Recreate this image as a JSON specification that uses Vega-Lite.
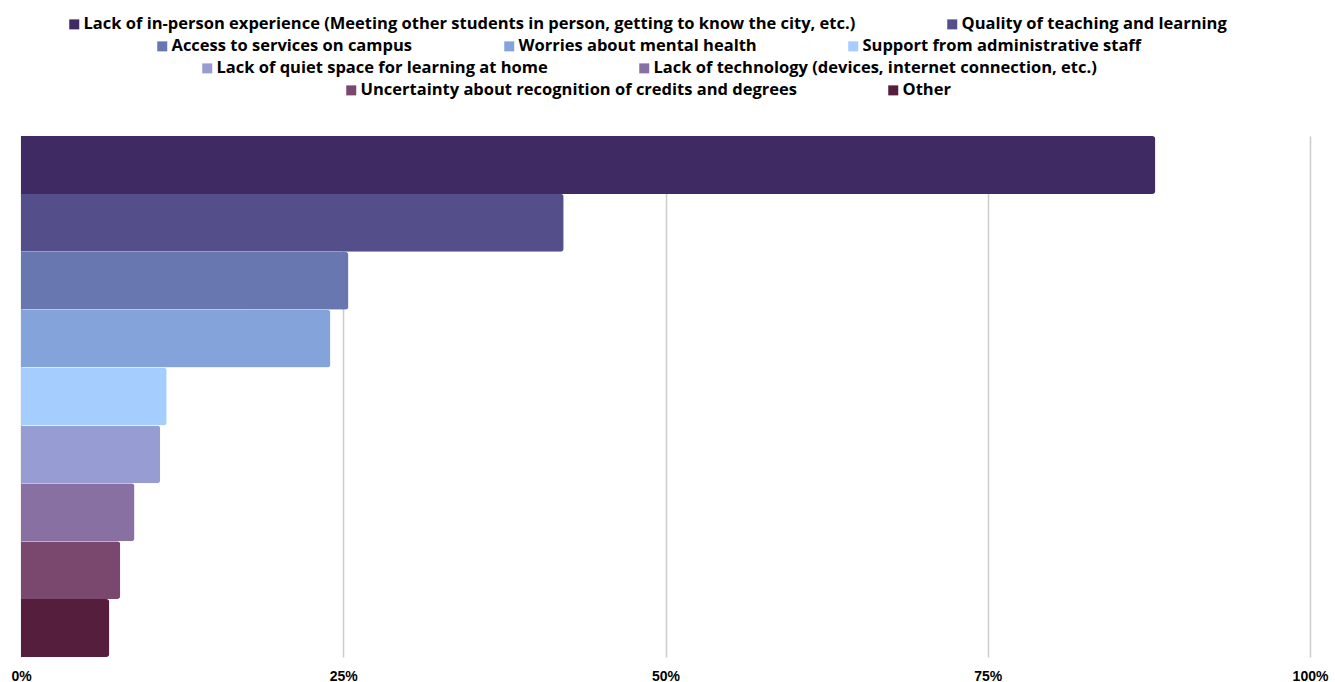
{
  "$schema": "https://vega.github.io/schema/vega-lite/v6.json",
  "autosize": {"type": "none"},
  "width": 1289,
  "height": 521,
  "padding": {"left": 21, "top": 136, "right": 25, "bottom": 25},
  "background": "white",
  "config": {"view": {"stroke": null}},
  "data": {"values": [
    {"category": "Lack of in-person experience (Meeting other students in person, getting to know the city, etc.)", "value": 0.88, "row": 1},
    {"category": "Quality of teaching and learning", "value": 0.421, "row": 1},
    {"category": "Access to services on campus", "value": 0.254, "row": 2},
    {"category": "Worries about mental health", "value": 0.240, "row": 2},
    {"category": "Support from administrative staff", "value": 0.113, "row": 2},
    {"category": "Lack of quiet space for learning at home", "value": 0.108, "row": 3},
    {"category": "Lack of technology (devices, internet connection, etc.)", "value": 0.088, "row": 3},
    {"category": "Uncertainty about recognition of credits and degrees", "value": 0.077, "row": 4},
    {"category": "Other", "value": 0.0685, "row": 4}
  ]},
  "encoding": {
    "y": {"field": "category", "type": "nominal", "axis": null,
      "scale": {"paddingInner": 0, "paddingOuter": 0, "domain": [
        "Lack of in-person experience (Meeting other students in person, getting to know the city, etc.)",
        "Quality of teaching and learning",
        "Access to services on campus",
        "Worries about mental health",
        "Support from administrative staff",
        "Lack of quiet space for learning at home",
        "Lack of technology (devices, internet connection, etc.)",
        "Uncertainty about recognition of credits and degrees",
        "Other"]}},
    "x": {"field": "value", "type": "quantitative",
      "scale": {"domain": [0, 1], "nice": false},
      "axis": {"values": [0, 0.25, 0.5, 0.75, 1], "format": ".0%", "title": null,
        "domain": false, "ticks": false, "tickSize": 0, "labelPadding": 12,
        "labelFont": "Liberation Sans", "labelFontWeight": "bold", "labelFontSize": 14, "labelColor": "#000",
        "labelFlush": false, "labelOverlap": false,
        "grid": true, "gridColor": "#cccccc", "gridWidth": 1.5}}
  },
  "layer": [
    {
      "transform": [{"filter": "datum.row == 1"}],
      "mark": {"type": "bar", "cornerRadiusEnd": 3},
      "encoding": {"color": {"field": "category", "type": "nominal",
        "scale": {"domain": ["Lack of in-person experience (Meeting other students in person, getting to know the city, etc.)", "Quality of teaching and learning"], "range": ["#3f2a63", "#544f8a"]},
        "legend": {"orient": "none", "legendX": 45, "legendY": -120, "direction": "horizontal", "title": null,
          "symbolType": "square", "symbolSize": 100, "symbolStrokeWidth": 0, "labelOffset": 1, "columnPadding": 88,
          "labelFont": "Open Sans", "labelFontWeight": "bold", "labelFontSize": 16.5, "labelColor": "#000", "labelLimit": 1000}}}
    },
    {
      "transform": [{"filter": "datum.row == 2"}],
      "mark": {"type": "bar", "cornerRadiusEnd": 3},
      "encoding": {"color": {"field": "category", "type": "nominal",
        "scale": {"domain": ["Access to services on campus", "Worries about mental health", "Support from administrative staff"], "range": ["#6977b0", "#84a3da", "#a5cdfd"]},
        "legend": {"orient": "none", "legendX": 133, "legendY": -98, "direction": "horizontal", "title": null,
          "symbolType": "square", "symbolSize": 100, "symbolStrokeWidth": 0, "labelOffset": 1, "columnPadding": 88,
          "labelFont": "Open Sans", "labelFontWeight": "bold", "labelFontSize": 16.5, "labelColor": "#000", "labelLimit": 1000}}}
    },
    {
      "transform": [{"filter": "datum.row == 3"}],
      "mark": {"type": "bar", "cornerRadiusEnd": 3},
      "encoding": {"color": {"field": "category", "type": "nominal",
        "scale": {"domain": ["Lack of quiet space for learning at home", "Lack of technology (devices, internet connection, etc.)"], "range": ["#979dd3", "#8870a2"]},
        "legend": {"orient": "none", "legendX": 178, "legendY": -76, "direction": "horizontal", "title": null,
          "symbolType": "square", "symbolSize": 100, "symbolStrokeWidth": 0, "labelOffset": 1, "columnPadding": 88,
          "labelFont": "Open Sans", "labelFontWeight": "bold", "labelFontSize": 16.5, "labelColor": "#000", "labelLimit": 1000}}}
    },
    {
      "transform": [{"filter": "datum.row == 4"}],
      "mark": {"type": "bar", "cornerRadiusEnd": 3},
      "encoding": {"color": {"field": "category", "type": "nominal",
        "scale": {"domain": ["Uncertainty about recognition of credits and degrees", "Other"], "range": ["#7a476f", "#561e3d"]},
        "legend": {"orient": "none", "legendX": 322, "legendY": -54, "direction": "horizontal", "title": null,
          "symbolType": "square", "symbolSize": 100, "symbolStrokeWidth": 0, "labelOffset": 1, "columnPadding": 88,
          "labelFont": "Open Sans", "labelFontWeight": "bold", "labelFontSize": 16.5, "labelColor": "#000", "labelLimit": 1000}}}
    }
  ],
  "resolve": {"scale": {"color": "independent"}, "legend": {"color": "independent"}}
}
